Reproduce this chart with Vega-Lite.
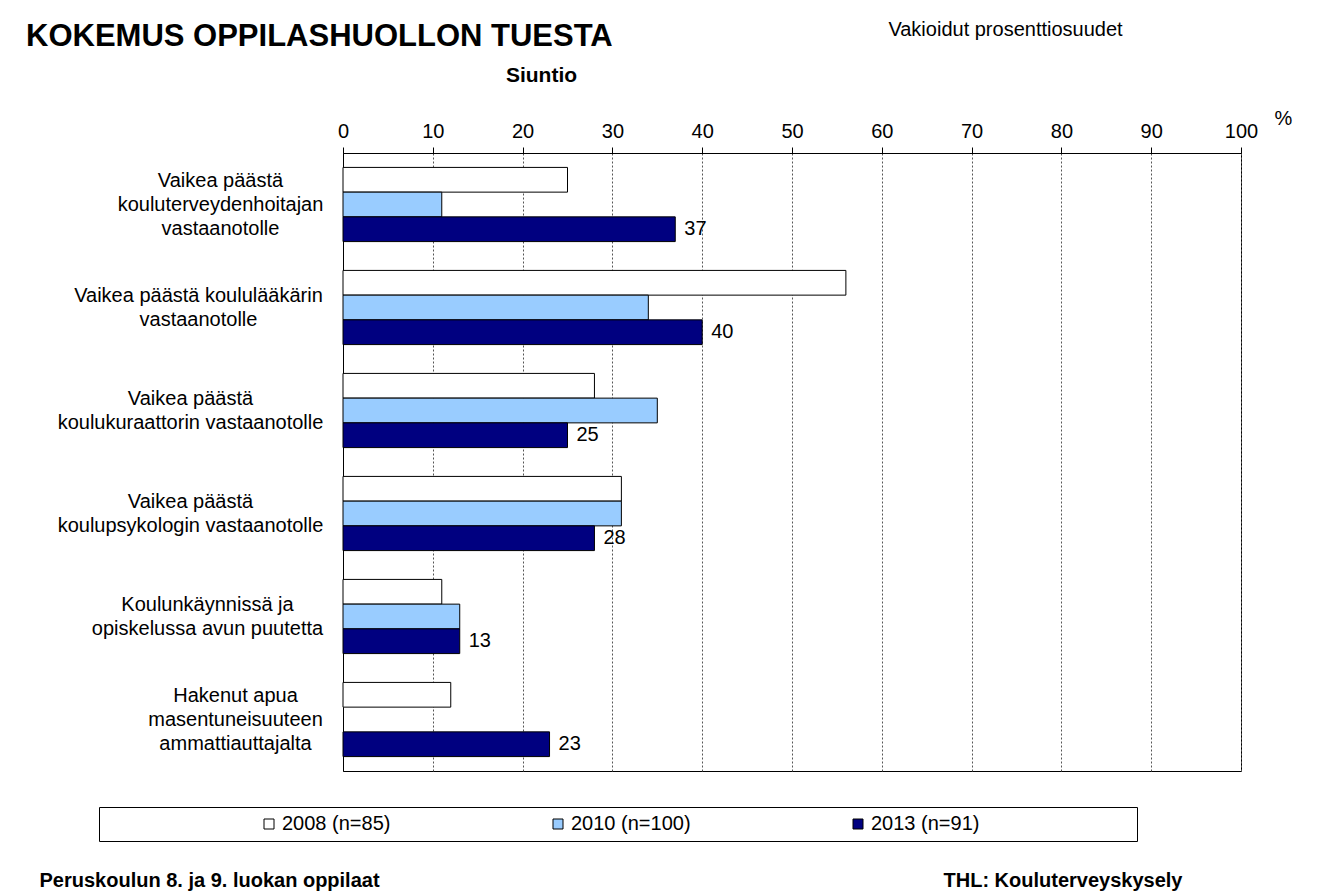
{
  "$schema": "https://vega.github.io/schema/vega-lite/v6.json",
  "width": 898,
  "height": 618,
  "autosize": {"type": "none"},
  "padding": {"left": 343, "top": 153, "right": 90, "bottom": 124},
  "background": "white",
  "config": {
    "font": "Liberation Sans",
    "view": {"stroke": "black", "strokeWidth": 1},
    "axis": {"labelFont": "Liberation Sans", "titleFont": "Liberation Sans", "labelColor": "black", "titleColor": "black"},
    "legend": {"labelFont": "Liberation Sans", "titleFont": "Liberation Sans", "labelColor": "black"}
  },
  "title": {
    "text": "KOKEMUS OPPILASHUOLLON TUESTA",
    "anchor": "start",
    "frame": "group",
    "dx": -317,
    "dy": 38,
    "fontSize": 31,
    "fontWeight": "bold",
    "font": "Liberation Sans",
    "color": "black"
  },
  "data": {
    "values": [
      {"q": "Vaikea päästä|kouluterveydenhoitajan|vastaanotolle", "year": "2008 (n=85)", "value": 25},
      {"q": "Vaikea päästä|kouluterveydenhoitajan|vastaanotolle", "year": "2010 (n=100)", "value": 11},
      {"q": "Vaikea päästä|kouluterveydenhoitajan|vastaanotolle", "year": "2013 (n=91)", "value": 37},
      {"q": "Vaikea päästä koululääkärin|vastaanotolle", "year": "2008 (n=85)", "value": 56},
      {"q": "Vaikea päästä koululääkärin|vastaanotolle", "year": "2010 (n=100)", "value": 34},
      {"q": "Vaikea päästä koululääkärin|vastaanotolle", "year": "2013 (n=91)", "value": 40},
      {"q": "Vaikea päästä|koulukuraattorin vastaanotolle", "year": "2008 (n=85)", "value": 28},
      {"q": "Vaikea päästä|koulukuraattorin vastaanotolle", "year": "2010 (n=100)", "value": 35},
      {"q": "Vaikea päästä|koulukuraattorin vastaanotolle", "year": "2013 (n=91)", "value": 25},
      {"q": "Vaikea päästä|koulupsykologin vastaanotolle", "year": "2008 (n=85)", "value": 31},
      {"q": "Vaikea päästä|koulupsykologin vastaanotolle", "year": "2010 (n=100)", "value": 31},
      {"q": "Vaikea päästä|koulupsykologin vastaanotolle", "year": "2013 (n=91)", "value": 28},
      {"q": "Koulunkäynnissä ja|opiskelussa avun puutetta", "year": "2008 (n=85)", "value": 11},
      {"q": "Koulunkäynnissä ja|opiskelussa avun puutetta", "year": "2010 (n=100)", "value": 13},
      {"q": "Koulunkäynnissä ja|opiskelussa avun puutetta", "year": "2013 (n=91)", "value": 13},
      {"q": "Hakenut apua|masentuneisuuteen|ammattiauttajalta", "year": "2008 (n=85)", "value": 12},
      {"q": "Hakenut apua|masentuneisuuteen|ammattiauttajalta", "year": "2013 (n=91)", "value": 23}
    ]
  },
  "layer": [
    {
      "mark": {"type": "bar", "stroke": "black", "strokeWidth": 1},
      "encoding": {
        "y": {
          "field": "q", "type": "nominal", "sort": null,
          "scale": {"paddingInner": 0.28, "paddingOuter": 0.14},
          "axis": {
            "orient": "left",
            "title": "Siuntio",
            "titleAngle": 0, "titleX": 198, "titleY": -78,
            "titleAlign": "center", "titleBaseline": "middle",
            "titleFontSize": 21, "titleFontWeight": "bold",
            "labelExpr": "split(datum.label, '|')",
            "labelAlign": "center", "labelBaseline": "middle",
            "labelFontSize": 20, "labelLineHeight": 24, "labelLimit": 0,
            "labelOffset": {"expr": "-(length(split(datum.value, '|')) - 1) * 12"},
            "labelPadding": {"expr": "indexof(datum.value, 'kouluterveyden') >= 0 ? 123 : indexof(datum.value, 'koululääkärin') >= 0 ? 145 : indexof(datum.value, 'kuraattorin') >= 0 ? 153 : indexof(datum.value, 'psykologin') >= 0 ? 153 : indexof(datum.value, 'puutetta') >= 0 ? 136 : 108"},
            "ticks": false, "tickSize": 0,
            "domain": true, "domainColor": "black",
            "grid": false
          }
        },
        "yOffset": {"field": "year", "type": "nominal", "sort": null, "scale": {"domain": ["2008 (n=85)", "2010 (n=100)", "2013 (n=91)"], "paddingInner": 0}},
        "x": {
          "field": "value", "type": "quantitative",
          "scale": {"domain": [0, 100], "nice": false},
          "axis": {
            "orient": "top",
            "values": [0, 10, 20, 30, 40, 50, 60, 70, 80, 90, 100],
            "title": "%",
            "titleX": 940, "titleY": -35, "titleAngle": 0,
            "titleAlign": "center", "titleBaseline": "middle",
            "titleFontSize": 20, "titleFontWeight": "normal",
            "labelFontSize": 20, "labelPadding": 6, "labelFlush": false,
            "tickSize": 6, "tickColor": "black",
            "domainColor": "black",
            "grid": true, "gridColor": "#555555", "gridDash": [2, 2], "gridWidth": 1
          }
        },
        "fill": {
          "field": "year", "type": "nominal",
          "scale": {"domain": ["2008 (n=85)", "2010 (n=100)", "2013 (n=91)"], "range": ["#FFFFFF", "#99CCFF", "#000080"]},
          "legend": {
            "orient": "none", "legendX": -244, "legendY": 654,
            "direction": "horizontal",
            "title": "\u2800\u2800\u2800\u2800\u2800\u2800\u2800\u2800\u2800\u2800",
            "titleOrient": "left", "titleFontSize": 20, "titlePadding": 3, "titleLimit": 1000,
            "strokeColor": "black", "padding": 7,
            "symbolType": "square", "symbolSize": 100,
            "symbolStrokeColor": "black", "symbolStrokeWidth": 1,
            "labelFontSize": 20, "labelOffset": 3, "labelLimit": 0,
            "columnPadding": 157,
            "labelExpr": "datum.label == '2013 (n=91)' ? datum.label + '\u2800\u2800\u2800\u2800\u2800\u2800\u2800\u2800\u2800\u2800' : datum.label"
          }
        }
      }
    },
    {
      "transform": [{"filter": "datum.year == '2013 (n=91)'"}],
      "mark": {"type": "text", "align": "left", "baseline": "middle", "dx": 9, "fontSize": 20, "color": "black"},
      "encoding": {
        "y": {
          "field": "q", "type": "nominal", "sort": null,
          "scale": {"paddingInner": 0.28, "paddingOuter": 0.14},
          "axis": {
            "orient": "right",
            "title": "THL: Kouluterveyskysely",
            "titleAngle": 0, "titleX": -298, "titleY": 727,
            "titleAlign": "left", "titleBaseline": "middle",
            "titleFontSize": 20, "titleFontWeight": "bold",
            "labels": false, "ticks": false, "domain": false, "grid": false
          }
        },
        "yOffset": {"field": "year", "type": "nominal", "sort": null, "scale": {"domain": ["2008 (n=85)", "2010 (n=100)", "2013 (n=91)"], "paddingInner": 0}},
        "x": {
          "field": "value", "type": "quantitative",
          "scale": {"domain": [0, 100], "nice": false},
          "axis": {
            "orient": "bottom",
            "title": "Peruskoulun 8. ja 9. luokan oppilaat",
            "titleX": -304, "titleY": 109,
            "titleAlign": "left", "titleBaseline": "middle",
            "titleFontSize": 20, "titleFontWeight": "bold",
            "labels": false, "ticks": false, "domain": false, "grid": false
          }
        },
        "text": {"field": "value", "type": "quantitative"}
      }
    },
    {
      "mark": {"type": "point", "opacity": 0},
      "encoding": {
        "x": {
          "datum": 0, "type": "quantitative",
          "scale": {"domain": [0, 100], "nice": false},
          "axis": {
            "orient": "top",
            "title": "Vakioidut prosenttiosuudet",
            "titleX": 662, "titleY": -124,
            "titleAlign": "center", "titleBaseline": "middle",
            "titleFontSize": 20, "titleFontWeight": "normal",
            "labels": false, "ticks": false, "domain": false, "grid": false
          }
        }
      }
    }
  ],
  "resolve": {"scale": {"x": "independent", "y": "independent"}}
}
